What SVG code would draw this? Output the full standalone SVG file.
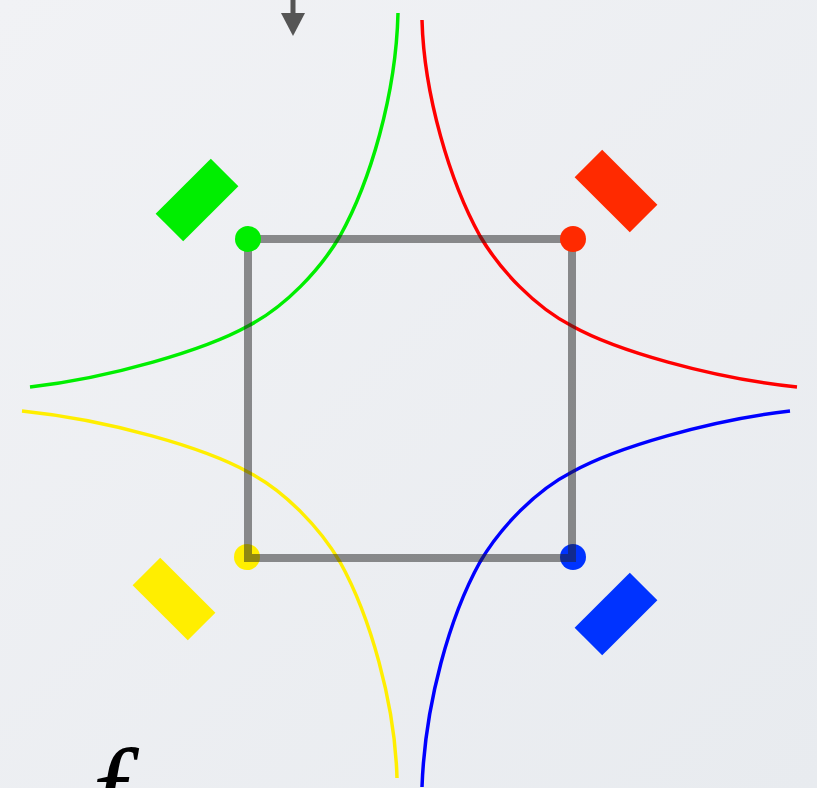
<svg xmlns="http://www.w3.org/2000/svg" width="817" height="788" viewBox="0 0 817 788">
<defs>
<linearGradient id="bg" x1="0" y1="0" x2="1" y2="1">
<stop offset="0" stop-color="#f1f2f5"/>
<stop offset="1" stop-color="#e8ebef"/>
</linearGradient>
<style>
.curve{fill:none;stroke-width:3.5;stroke-linecap:butt}
.frame{fill:none;stroke:#222;stroke-opacity:0.5;stroke-width:8;stroke-linejoin:miter}
.mark{stroke:none}
</style>
</defs>
<rect width="817" height="788" fill="url(#bg)"/>

<g id="arrow">
<line x1="293" y1="0" x2="293" y2="14" stroke="#555" stroke-width="5"/>
<polygon points="281,13 305,13 293,36" fill="#555"/>
</g>

<g id="connectors">
<path id="curve-green" class="curve" stroke="#00ee00" d="M398,13 C396,95 370,182 340,236 C320,270 285,307 248,326 C205,350 110,378 30,387"/>
<path id="curve-red" class="curve" stroke="#ff0000" d="M422,20 C424,95 450,182 480,236 C500,270 535,307 572,326 C615,350 710,378 797,387"/>
<path id="curve-yellow" class="curve" stroke="#ffee00" d="M22,411 C110,420 205,448 248,472 C285,491 320,528 340,562 C370,616 395,703 397,778"/>
<path id="curve-blue" class="curve" stroke="#0000ff" d="M790,411 C710,420 615,448 572,472 C535,491 500,528 480,562 C450,616 425,703 422,787"/>
</g>

<g id="node-yellow-dot"><circle cx="247" cy="557" r="13" fill="#ffee00"/></g>
<g id="node-blue-dot"><circle cx="573" cy="557" r="13" fill="#0033ff"/></g>

<g id="node-frame">
<path class="frame" d="M248,239 L572,239 L572,558 L248,558 Z"/>
</g>

<g id="node-green-dot"><circle cx="248" cy="239" r="13" fill="#00ee00"/></g>
<g id="node-red-dot"><circle cx="573" cy="239" r="13" fill="#ff2a00"/></g>

<g id="node-green-mark"><rect class="mark" x="-39" y="-19.5" width="78" height="39" fill="#00ee00" transform="translate(197,200) rotate(-45)"/></g>
<g id="node-red-mark"><rect class="mark" x="-39" y="-19.5" width="78" height="39" fill="#ff2a00" transform="translate(616,191) rotate(45)"/></g>
<g id="node-yellow-mark"><rect class="mark" x="-39" y="-19.5" width="78" height="39" fill="#ffee00" transform="translate(174,599) rotate(45)"/></g>
<g id="node-blue-mark"><rect class="mark" x="-39" y="-19.5" width="78" height="39" fill="#0033ff" transform="translate(616,614) rotate(-45)"/></g>

<g id="label-f">
<text x="92" y="832" font-family="Liberation Serif, serif" font-style="italic" font-size="120" fill="#000">f</text>
</g>
</svg>
